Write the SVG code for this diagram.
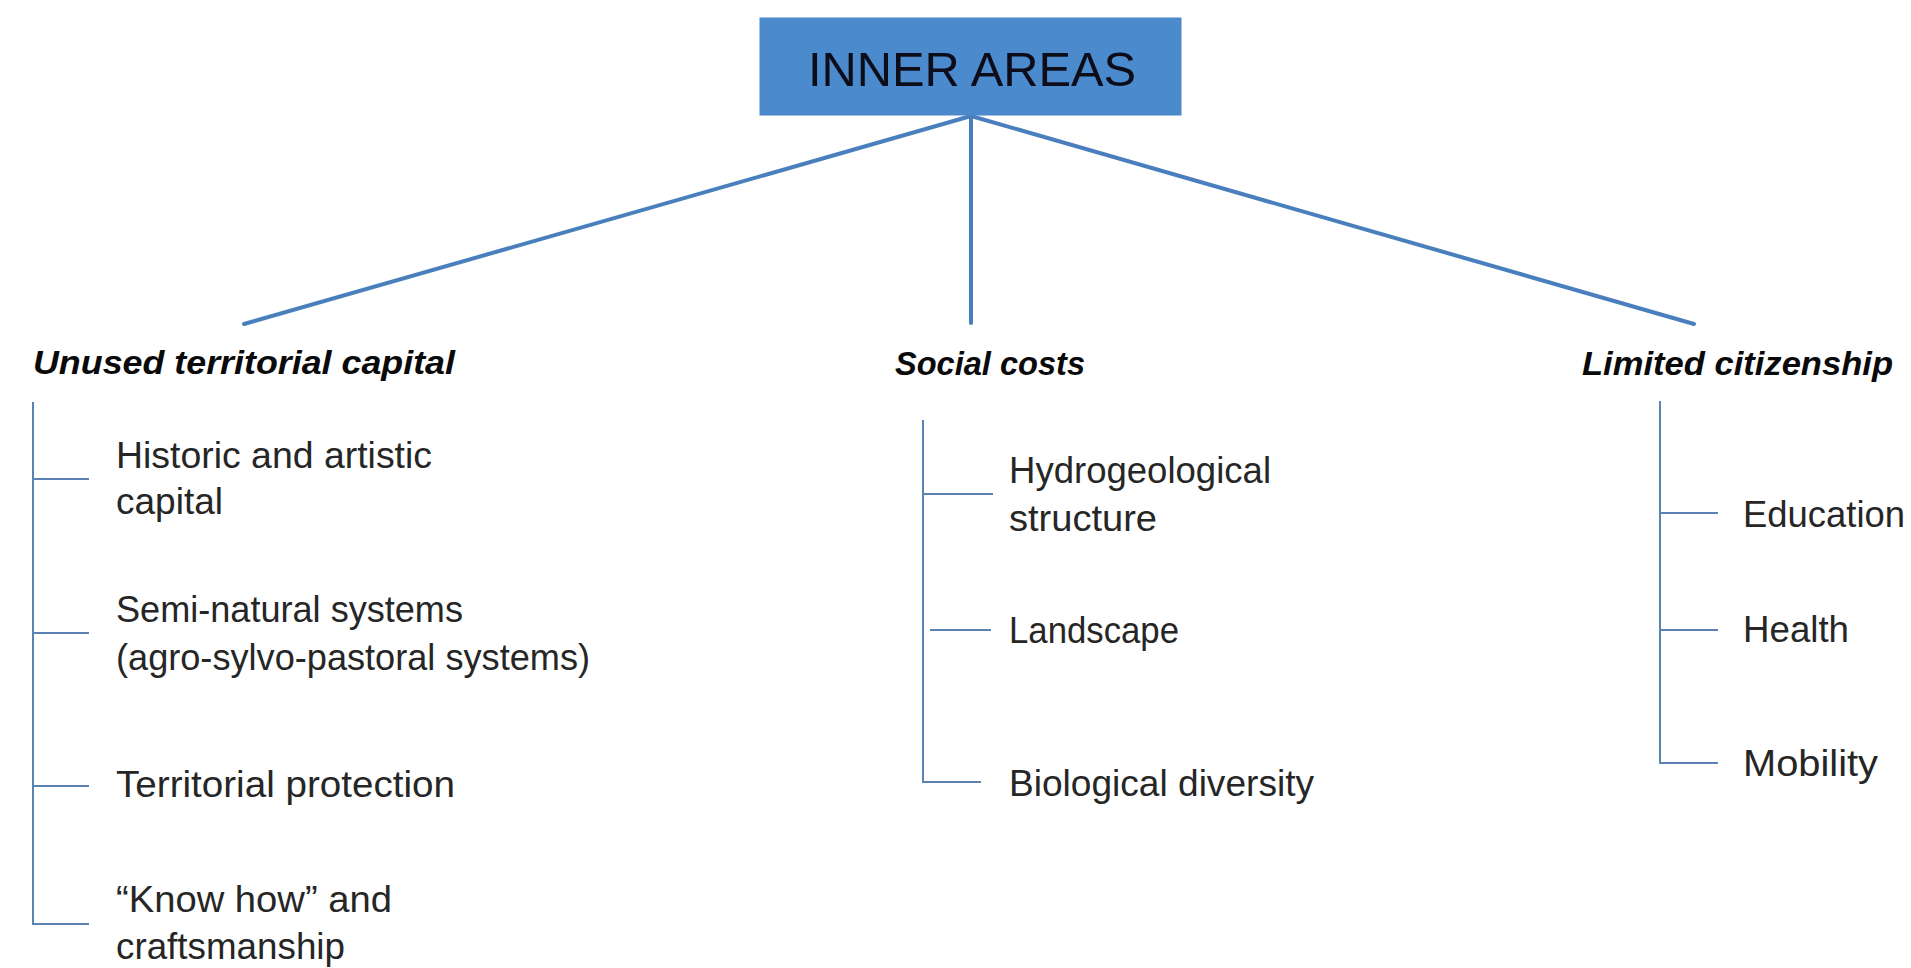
<svg xmlns="http://www.w3.org/2000/svg" width="1911" height="968" viewBox="0 0 1911 968">
<style>
.bg{fill:#ffffff}
.box{fill:#4a8acd;stroke:#4a86c4;stroke-width:1}
.title{font-family:"Liberation Sans",Arial,sans-serif;font-size:48px;fill:#0d0d1a}
.head{font-family:"Liberation Sans",Arial,sans-serif;font-size:34px;font-weight:bold;font-style:italic;fill:#0a0a0a}
.item{font-family:"Liberation Sans",Arial,sans-serif;font-size:36px;fill:#262626}
.conn{stroke:#4a7fbd;stroke-width:4;fill:none;stroke-linecap:round}
.tree{stroke:#5b82b5;stroke-width:2;fill:none}
</style>
<rect class="bg" x="0" y="0" width="1911" height="968"/>
<g id="connectors">
<line class="conn" x1="971" y1="116" x2="244" y2="324"/>
<line class="conn" x1="971" y1="116" x2="971" y2="323"/>
<line class="conn" x1="971" y1="116" x2="1694" y2="324"/>
<polyline class="tree" points="33,402 33,924 89,924"/>
<line class="tree" x1="33" y1="479" x2="89" y2="479"/>
<line class="tree" x1="33" y1="633" x2="89" y2="633"/>
<line class="tree" x1="33" y1="786" x2="89" y2="786"/>
<polyline class="tree" points="923,420 923,782 981,782"/>
<line class="tree" x1="923" y1="494" x2="993" y2="494"/>
<line class="tree" x1="930" y1="630" x2="991" y2="630"/>
<polyline class="tree" points="1660,401 1660,763 1718,763"/>
<line class="tree" x1="1660" y1="513" x2="1718" y2="513"/>
<line class="tree" x1="1660" y1="630" x2="1718" y2="630"/>
</g>
<g id="inner-areas">
<rect class="box" x="760" y="18" width="421" height="97"/>
<text class="title" x="808" y="86" textLength="328" lengthAdjust="spacingAndGlyphs">INNER AREAS</text>
</g>
<g id="unused-territorial-capital">
<text class="head" x="33" y="374" textLength="422" lengthAdjust="spacingAndGlyphs">Unused territorial capital</text>
</g>
<g id="historic-artistic">
<text class="item" x="116" y="468" textLength="316" lengthAdjust="spacingAndGlyphs">Historic and artistic</text>
<text class="item" x="116" y="514" textLength="107" lengthAdjust="spacingAndGlyphs">capital</text>
</g>
<g id="semi-natural">
<text class="item" x="116" y="622" textLength="347" lengthAdjust="spacingAndGlyphs">Semi-natural systems</text>
<text class="item" x="116" y="670" textLength="474" lengthAdjust="spacingAndGlyphs">(agro-sylvo-pastoral systems)</text>
</g>
<g id="territorial-protection">
<text class="item" x="116" y="797" textLength="339" lengthAdjust="spacingAndGlyphs">Territorial protection</text>
</g>
<g id="know-how">
<text class="item" x="116" y="912" textLength="276" lengthAdjust="spacingAndGlyphs">“Know how” and</text>
<text class="item" x="116" y="959" textLength="229" lengthAdjust="spacingAndGlyphs">craftsmanship</text>
</g>
<g id="social-costs">
<text class="head" x="895" y="375" textLength="190" lengthAdjust="spacingAndGlyphs">Social costs</text>
</g>
<g id="hydrogeological">
<text class="item" x="1009" y="483" textLength="262" lengthAdjust="spacingAndGlyphs">Hydrogeological</text>
<text class="item" x="1009" y="531" textLength="148" lengthAdjust="spacingAndGlyphs">structure</text>
</g>
<g id="landscape">
<text class="item" x="1009" y="643" textLength="170" lengthAdjust="spacingAndGlyphs">Landscape</text>
</g>
<g id="biological-diversity">
<text class="item" x="1009" y="796" textLength="305" lengthAdjust="spacingAndGlyphs">Biological diversity</text>
</g>
<g id="limited-citizenship">
<text class="head" x="1582" y="375" textLength="311" lengthAdjust="spacingAndGlyphs">Limited citizenship</text>
</g>
<g id="education">
<text class="item" x="1743" y="527" textLength="162" lengthAdjust="spacingAndGlyphs">Education</text>
</g>
<g id="health">
<text class="item" x="1743" y="642" textLength="106" lengthAdjust="spacingAndGlyphs">Health</text>
</g>
<g id="mobility">
<text class="item" x="1743" y="776" textLength="135" lengthAdjust="spacingAndGlyphs">Mobility</text>
</g>
</svg>
